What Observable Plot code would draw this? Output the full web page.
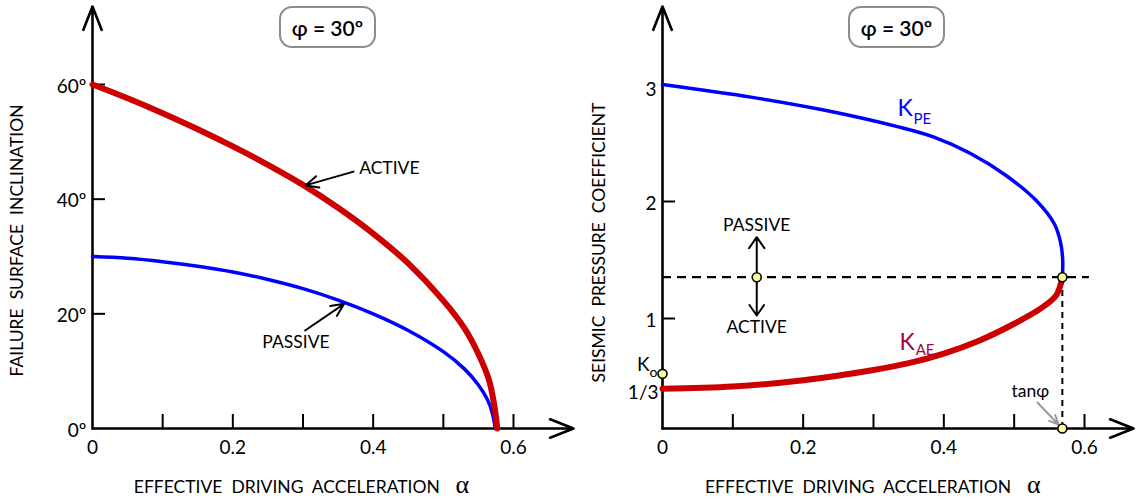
<!DOCTYPE html>
<html><head><meta charset="utf-8">
<script src="https://cdn.jsdelivr.net/npm/d3@7"></script>
<script src="https://cdn.jsdelivr.net/npm/@observablehq/plot@0.6"></script>
<style>
body{margin:0;background:#fff;}
#wrap{position:relative;width:1138px;height:500px;overflow:hidden;font-family:Lato,"Open Sans",sans-serif;color:#000;background:#fff;}
.phi{position:absolute;top:6px;width:97px;height:42px;border:2px solid #8c8c8c;border-radius:13px;box-sizing:border-box;display:flex;align-items:center;justify-content:center;font-size:21px;font-weight:600;}
</style>
</head><body>
<div id="wrap">
  <div class="phi" style="left:279px">φ = 30º</div>
  <div class="phi" style="left:848px">φ = 30º</div>
</div>
<script>
// ---------- LEFT PANEL DATA (failure surface inclination, degrees) ----------
const activeAlpha = [0, 0.05, 0.1, 0.15, 0.2, 0.25, 0.3, 0.35, 0.4, 0.45, 0.5, 0.53, 0.55, 0.565, 0.572, 0.577];
const activeDeg   = [60, 57.6, 55.0, 52.2, 49.2, 46.0, 42.5, 38.5, 34.0, 28.8, 22.3, 17.5, 13.0, 8.5, 4.5, 0];
const passiveAlpha = [0, 0.05, 0.1, 0.15, 0.2, 0.25, 0.3, 0.35, 0.4, 0.45, 0.5, 0.53, 0.55, 0.563, 0.57, 0.574];
const passiveDeg   = [30, 29.7, 29.1, 28.3, 27.3, 26.0, 24.4, 22.4, 20.0, 17.1, 13.4, 10.4, 7.6, 5.0, 2.6, 0];
const alphaTicks = [0.1, 0.2, 0.3, 0.4, 0.5, 0.6];
const alphaTickLabels = [0, 0.2, 0.4, 0.6];
const degTicks = [20, 40, 60];
const degTickLabels = [0, 20, 40, 60];

// ---------- RIGHT PANEL DATA (seismic pressure coefficient) ----------
const kpeAlpha = [0, 0.128, 0.231, 0.334, 0.386, 0.438, 0.489, 0.531, 0.557, 0.566, 0.569, 0.5685];
const kpeValue = [3.0, 2.89, 2.78, 2.64, 2.55, 2.41, 2.22, 2.01, 1.81, 1.65, 1.50, 1.353];
const kaeAlpha = [0, 0.1, 0.2, 0.3, 0.35, 0.4, 0.45, 0.5, 0.54, 0.56, 0.5685];
const kaeValue = [0.40, 0.418, 0.472, 0.560, 0.618, 0.700, 0.810, 0.955, 1.095, 1.200, 1.353];
const kTicks = [1, 2];
const kTickLabels = [1, 2];
const kTopLabel = 3;
const k0 = 0.527;
const tanPhi = 0.5685;
const kJunction = 1.353;
const kFloor = 0.06;

// annotation anchors (data space)
const leftAxes = [{x1:0,y1:0,x2:0,y2:73.6},{x1:0,y1:0,x2:0.6855,y2:0}];
const rightAxes = [{x1:0,y1:kFloor,x2:0,y2:3.667},{x1:0,y1:kFloor,x2:0.6697,y2:kFloor}];
const activeNote  = [{x1:0.372,y1:44.8,x2:0.3036,y2:42.4,tx:0.380,ty:45.3,text:"ACTIVE"}];
const passiveNote = [{x1:0.303,y1:17.1,x2:0.3586,y2:21.75,tx:0.290,ty:15.0,text:"PASSIVE"}];
const dirAlpha = 0.134;
const rightDir = [
  {x1:dirAlpha,y1:kJunction,x2:dirAlpha,y2:1.695,tx:dirAlpha,ty:1.795,text:"PASSIVE"},
  {x1:dirAlpha,y1:kJunction,x2:dirAlpha,y2:1.026,tx:dirAlpha,ty:0.923,text:"ACTIVE"}
];

const active = activeAlpha.map((a,i)=>({a, v:activeDeg[i]}));
const passive = passiveAlpha.map((a,i)=>({a, v:passiveDeg[i]}));
const kpe = kpeAlpha.map((a,i)=>({a, v:kpeValue[i]}));
const kae = kaeAlpha.map((a,i)=>({a, v:kaeValue[i]}));

const RED = "#cc0000", BLUE = "#0000ff", KAE_TXT = "#a8003c", YEL = "#ffff99";
const FF = "Lato, 'Open Sans', sans-serif";
const TICK = 19, NOTE = 17.5, TITLE = 17.5;

const left = Plot.plot({
  width: 580, height: 500,
  x: {domain:[0,0.6], range:[92,513], axis:null},
  y: {domain:[0,60], range:[428,84], axis:null},
  style: {fontFamily: FF, background: "transparent", overflow: "visible", color:"#000"},
  marks: [
    Plot.ruleX(alphaTicks, {x: d=>d, y1: 0, y2: 0, insetBottom: 14, stroke:"#000", strokeWidth: 2}),
    Plot.ruleY(degTicks, {y: d=>d, x1: 0, x2: 0, insetRight: -13, stroke:"#000", strokeWidth: 2}),
    Plot.arrow(leftAxes, {x1:"x1",y1:"y1",x2:"x2",y2:"y2", stroke:"#000", strokeWidth: 2.6, headLength: 14.5, headAngle: 43}),
    Plot.text(alphaTickLabels, {x: d=>d, y: 0, text: d=>String(d), dy: 19, fontSize: TICK}),
    Plot.text(degTickLabels, {x: 0, y: d=>d, text: d=>d+"º", textAnchor:"end", dx: -6, dy: 2, fontSize: TICK}),
    Plot.line(passive, {x:"a", y:"v", stroke: BLUE, strokeWidth: 3.5, curve:"catmull-rom"}),
    Plot.line(active, {x:"a", y:"v", stroke: RED, strokeWidth: 6, curve:"catmull-rom"}),
    Plot.arrow(activeNote.concat(passiveNote), {x1:"x1",y1:"y1",x2:"x2",y2:"y2", stroke:"#000", strokeWidth: 2, headLength: 10.5, headAngle: 50}),
    Plot.text(activeNote, {x:"tx", y:"ty", text:"text", textAnchor:"start", fontSize: NOTE}),
    Plot.text(passiveNote, {x:"tx", y:"ty", text:"text", fontSize: NOTE}),
    Plot.text(["FAILURE  SURFACE  INCLINATION"], {x: -0.107, y: 32.8, text: d=>d, rotate: -90, fontSize: TITLE}),
    Plot.text(["EFFECTIVE  DRIVING  ACCELERATION"], {x: 0.277, y: -10.3, text: d=>d, fontSize: TITLE}),
    Plot.text(["α"], {x: 0.527, y: -10.3, text: d=>d, dy: -3, fontSize: 26, fontFamily: "'Liberation Serif', serif"})
  ]
});

const right = Plot.plot({
  width: 568, height: 500,
  x: {domain:[0,0.6], range:[92,514], axis:null},
  y: {domain:[1,3], range:[318,84], axis:null},
  style: {fontFamily: FF, background: "transparent", overflow: "visible", color:"#000"},
  marks: [
    Plot.ruleX(alphaTicks, {x: d=>d, y1: kFloor, y2: kFloor, insetBottom: 14, stroke:"#000", strokeWidth: 2}),
    Plot.ruleY(kTicks, {y: d=>d, x1: 0, x2: 0, insetRight: -13, stroke:"#000", strokeWidth: 2}),
    Plot.arrow(rightAxes, {x1:"x1",y1:"y1",x2:"x2",y2:"y2", stroke:"#000", strokeWidth: 2.6, headLength: 14.5, headAngle: 43}),
    Plot.text(alphaTickLabels, {x: d=>d, y: kFloor, text: d=>String(d), dy: 19, fontSize: TICK}),
    Plot.text(kTickLabels, {x: 0, y: d=>d, text: d=>String(d), textAnchor:"end", dx: -6, dy: 2, fontSize: TICK}),
    Plot.text([kTopLabel], {x: 0, y: d=>d, text: d=>String(d), textAnchor:"end", dx: -6, dy: 5, fontSize: TICK}),
    Plot.text([1/3], {x: 0, y: d=>d, text: ()=>"1/3", textAnchor:"end", dx: -4, dy: -4, fontSize: TICK}),
    Plot.text([k0], {x: 0, y: d=>d, text: ()=>"K", textAnchor:"end", dx: -13, dy: -9, fontSize: TICK}),
    Plot.text([k0], {x: 0, y: d=>d, text: ()=>"o", textAnchor:"end", dx: -5, dy: -1, fontSize: 14}),
    // dashed guides
    Plot.ruleY([kJunction], {x1: 0, x2: 0.607, stroke:"#000", strokeWidth: 2.2, strokeDasharray: "9,6"}),
    Plot.ruleX([tanPhi], {y1: kFloor, y2: kJunction, stroke:"#000", strokeWidth: 2, strokeDasharray: "6,5"}),
    Plot.line(kpe, {x:"a", y:"v", stroke: BLUE, strokeWidth: 3.5, curve:"catmull-rom"}),
    Plot.line(kae, {x:"a", y:"v", stroke: RED, strokeWidth: 6, curve:"catmull-rom"}),
    Plot.arrow(rightDir, {x1:"x1",y1:"y1",x2:"x2",y2:"y2", stroke:"#000", strokeWidth: 2, headLength: 10, headAngle: 70}),
    Plot.text(rightDir, {x:"tx", y:"ty", text:"text", fontSize: NOTE}),
    Plot.arrow([{x1:0.533,y1:0.282,x2:0.563,y2:0.094}], {x1:"x1",y1:"y1",x2:"x2",y2:"y2", stroke:"#999", strokeWidth: 2, headLength: 7.5, headAngle: 50}),
    Plot.text(["tanφ"], {x: 0.523, y: 0.375, text: d=>d, fontSize: NOTE}),
    Plot.dot([{a:tanPhi,v:kJunction},{a:tanPhi,v:kFloor},{a:dirAlpha,v:kJunction},{a:0,v:k0}], {x:"a", y:"v", r: 4.5, fill: YEL, stroke:"#000", strokeWidth: 1.6}),
    Plot.text(["K"], {x: 0.334, y: 2.79, text: d=>d, textAnchor:"start", fontSize: 23, fill: BLUE}),
    Plot.text(["PE"], {x: 0.357, y: 2.70, text: d=>d, textAnchor:"start", fontSize: 15, fill: BLUE}),
    Plot.text(["K"], {x: 0.337, y: 0.79, text: d=>d, textAnchor:"start", fontSize: 23, fill: KAE_TXT}),
    Plot.text(["AE"], {x: 0.360, y: 0.73, text: d=>d, textAnchor:"start", fontSize: 15, fill: KAE_TXT}),
    Plot.text(["SEISMIC  PRESSURE  COEFFICIENT"], {x: -0.0896, y: 1.65, text: d=>d, rotate: -90, fontSize: TITLE}),
    Plot.text(["EFFECTIVE  DRIVING  ACCELERATION"], {x: 0.278, y: -0.444, text: d=>d, fontSize: TITLE}),
    Plot.text(["α"], {x: 0.528, y: -0.444, text: d=>d, dy: -3, fontSize: 26, fontFamily: "'Liberation Serif', serif"})
  ]
});

left.style.position = "absolute"; left.style.left = "0px"; left.style.top = "0px";
right.style.position = "absolute"; right.style.left = "570px"; right.style.top = "0px";
const wrap = document.getElementById("wrap");
wrap.insertBefore(right, wrap.firstChild);
wrap.insertBefore(left, wrap.firstChild);
</script>
</body></html>
